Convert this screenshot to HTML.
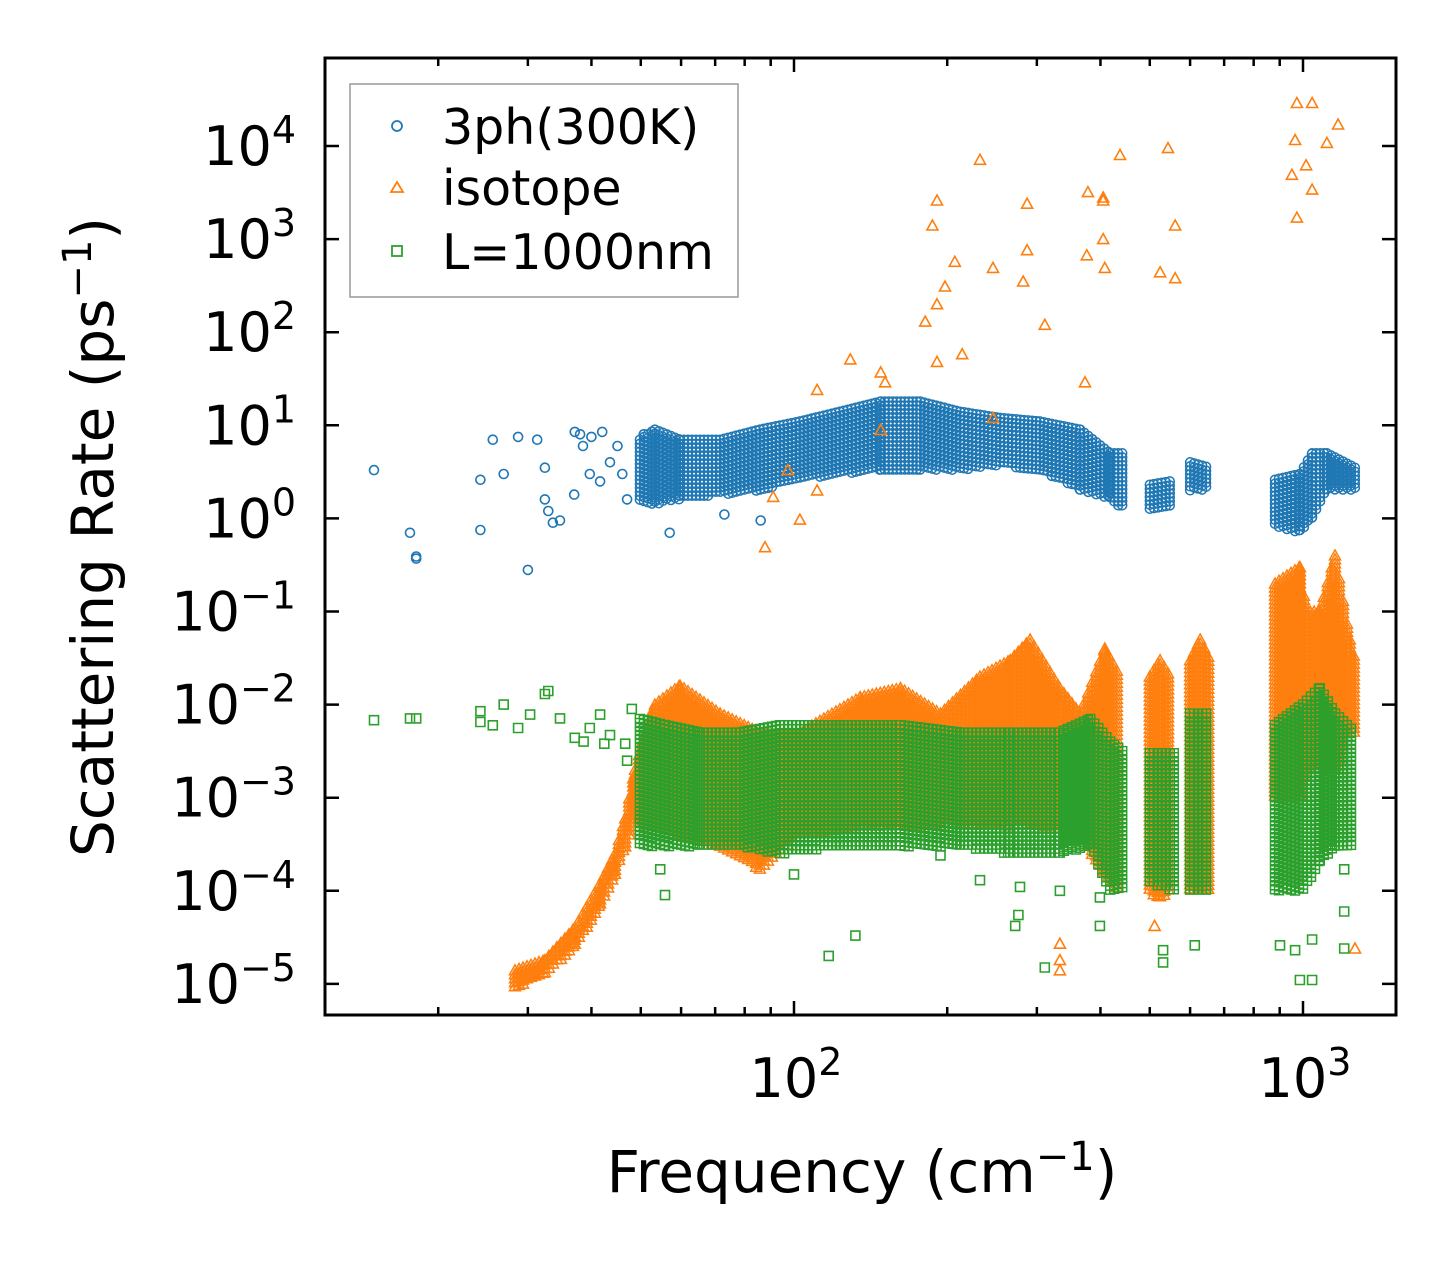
<!DOCTYPE html>
<html><head><meta charset="utf-8"><style>
html,body{margin:0;padding:0;background:#fff;}
svg text{font-family:"DejaVu Sans","Liberation Sans",sans-serif;fill:#000;}
</style></head><body>
<svg id="chart" width="1455" height="1265" viewBox="0 0 1455 1265" xmlns="http://www.w3.org/2000/svg">
<rect x="0" y="0" width="1455" height="1265" fill="#fff"/>
<g id="marks"></g>
<g id="axes"></g>
<g id="legend">
 <rect x="350" y="84" width="388" height="213" fill="#fff" fill-opacity="0.85" stroke="#999" stroke-width="1.5"/>
 <circle cx="397" cy="126" r="5" fill="none" stroke="#1f77b4" stroke-width="1.8"/>
 <text x="442" y="144" font-size="49">3ph(300K)</text>
 <path d="M397,182 L403,192 L391,192 Z" fill="none" stroke="#ff7f0e" stroke-width="1.8"/>
 <text x="442" y="205" font-size="49">isotope</text>
 <rect x="392" y="246" width="10" height="10" fill="none" stroke="#2ca02c" stroke-width="1.8"/>
 <text x="442" y="269" font-size="49">L=1000nm</text>
</g>
<text x="862" y="1192" font-size="58" text-anchor="middle">Frequency (cm<tspan font-size="40" dy="-22">−1</tspan><tspan dy="22">)</tspan></text>
<text transform="translate(113,537) rotate(-90)" font-size="58" text-anchor="middle">Scattering Rate (ps<tspan font-size="40" dy="-22">−1</tspan><tspan dy="22">)</tspan></text>
</svg>
<script>
// ---- data ----
const blueScatterFreq = [14.96,17.6,18.1,18.1,24.2,24.2,25.6,26.9,28.7,30,31.3,32.4,32.9,32.4,33.6,34.7,37,37.1,38.5,39.7,41.6,43.5,47,50.7,57,73,86,38,40,42,45,46];
const blueScatterRate = [3.3,0.7,0.37,0.39,2.6,0.75,7,3,7.5,0.28,7,3.5,1.2,1.6,0.9,0.95,1.8,8.5,6,3,2.5,4,1.6,8,0.7,1.1,0.95,8,7.5,8.5,6,3];
const blueBandFreq = [49.8,53.3,59.7,71.6,85.7,102.7,123,148,177,212,254,304,365,418,447,null,500,548,null,600,656,null,881,986,1042,1114,1265];
const blueBandLo   = [1.5,1.4,1.6,1.8,2,2.6,3,3.3,3.3,3.3,3.7,3.3,2,1.6,1.2,null,1.2,1.3,null,2,2,null,0.8,0.7,1,2,2];
const blueBandHi   = [7,9,7,7,9,11,14,18,18,14,12,11,9,5,5,null,2.3,2.5,null,4,3.5,null,2.6,3,5,5,3.5];

const isoScatterFreq = [973,1042,965,1172,1114,1014,951,1042,973,543,437,232,378,405,405,287,191,187,561,405,287,376,408,524,561,246,207,282,198,191,181,311,191,214,129,148,151,111,373,148,246,97.3,111,102.7,87.7,91,333,333,333,511,1265];
const isoScatterRate = [2.9e4,2.9e4,1.16e4,1.7e4,1.08e4,6.2e3,4.9e3,3.4e3,1.7e3,9.5e3,8e3,7.1e3,3.2e3,2.8e3,2.6e3,2.4e3,2.6e3,1.4e3,1.4e3,1e3,7.6e2,6.7e2,4.9e2,4.4e2,3.8e2,4.9e2,5.7e2,3.5e2,3.1e2,2e2,1.3e2,1.2e2,48,58,51,37,29,24,29,8.9,12,3.3,2.0,0.97,0.49,1.7,1.4e-5,1.8e-5,2.7e-5,4.2e-5,2.4e-5];
const isoBandFreq = [28.3,32.4,37.1,41.6,44.5,46.6,48.7,51,53.3,59.7,71.6,85.7,102.7,135,162,194,232,266,291,333,365,408,437,null,500,524,548,null,600,628,656,null,881,986,1014,1079,1156,1236,1265];
const isoBandLo = [9e-6,1.3e-5,2.5e-5,7e-5,1.5e-4,3e-4,6e-4,5e-4,5e-4,4e-4,3e-4,1.7e-4,4e-4,5e-4,5e-4,5e-4,5e-4,5e-4,5e-4,5e-4,4e-4,1.5e-4,1e-4,null,1e-4,8e-5,1e-4,null,1e-4,1e-4,1e-4,null,1e-3,1e-3,2e-3,2e-3,2e-3,5e-3,5e-3];
const isoBandHi = [1.4e-5,1.8e-5,4e-5,1.2e-4,2.5e-4,6e-4,2e-3,5e-3,1e-2,1.6e-2,8e-3,5e-3,5e-3,1.2e-2,1.5e-2,8e-3,2e-2,3e-2,5e-2,1.5e-2,8e-3,4e-2,2e-2,null,2e-2,3e-2,2e-2,null,3e-2,5e-2,3e-2,null,0.2,0.3,0.1,0.1,0.4,0.05,0.03];

const bdyScatterFreq = [14.96,17.6,18.1,24.2,24.2,25.6,26.9,28.7,30.3,32.4,32.9,34.7,37.1,39.7,41.6,43.5,46.6,47,42.4,48,38.6,54.6,55.8,100,132,117,272,276,311,278,399,613,531,531,901,965,986,1042,1042,1205,1205,1205,333,232,399,194];
const bdyScatterRate = [6.8e-3,7.1e-3,7.1e-3,6.5e-3,8.5e-3,6e-3,1e-2,5.6e-3,7.8e-3,1.3e-2,1.4e-2,7.1e-3,4.4e-3,5.6e-3,7.8e-3,4.7e-3,3.8e-3,2.5e-3,3.8e-3,9e-3,4e-3,1.7e-4,9e-5,1.5e-4,3.3e-5,2e-5,4.2e-5,5.5e-5,1.5e-5,1.1e-4,4.2e-5,2.6e-5,2.3e-5,1.7e-5,2.6e-5,2.3e-5,1.1e-5,1.1e-5,3e-5,2.4e-5,6e-5,1.7e-4,1e-4,1.3e-4,8.5e-5,2.4e-4];
const bdyBandFreq = [49.8,55.8,65.3,78.3,93.9,123,162,212,266,333,382,418,447,null,500,560,null,600,656,null,881,1000,1079,1156,1265];
const bdyBandLo = [3e-4,3e-4,3e-4,3e-4,2.5e-4,3e-4,3e-4,3e-4,2.5e-4,2.5e-4,3e-4,1e-4,1e-4,null,1.2e-4,1e-4,null,1e-4,1e-4,null,1e-4,1e-4,2e-4,3e-4,3e-4];
const bdyBandHi = [7e-3,6e-3,5e-3,5e-3,6e-3,6e-3,6e-3,5e-3,5e-3,5e-3,7e-3,4e-3,3e-3,null,3e-3,3e-3,null,8e-3,8e-3,null,6e-3,1e-2,1.5e-2,8e-3,5e-3];

const xTickExps = [2,3];
const yTickExps = [4,3,2,1,0,-1,-2,-3,-4,-5];

// ---- axes ----
const L=325,R=1396,T=58,B=1015;
const X = f => 794 + 509*(Math.log10(f)-2);
const Y = v => 146 + 93.1*(4-Math.log10(v));
const NS="http://www.w3.org/2000/svg";
const marks=document.getElementById('marks');
const axes=document.getElementById('axes');
function mk(tag,attrs,parent){const e=document.createElementNS(NS,tag);for(const k in attrs)e.setAttribute(k,attrs[k]);parent.appendChild(e);return e;}
const r1 = v => Math.round(v*10)/10;
function markerPath(kind,x,y){
  x=+x; y=+y;
  if(kind==='c') return `M${r1(x-4.5)} ${r1(y)}a4.5 4.5 0 1 0 9 0a4.5 4.5 0 1 0 -9 0`;
  if(kind==='t') return `M${r1(x)} ${r1(y-5.5)}L${r1(x+5.5)} ${r1(y+4.5)}L${r1(x-5.5)} ${r1(y+4.5)}Z`;
  return `M${r1(x-4.5)} ${r1(y-4.5)}h9v9h-9Z`;
}
function drawSeries(name,color,kind,bf,blo,bhi,sf,sr){
  let d='';
  for(let i=0;i<bf.length-1;i++){
    if(bf[i]===null||bf[i+1]===null) continue;
    const x0=X(bf[i]),x1=X(bf[i+1]);
    for(let x=x0;x<=x1;x+=4){
      const t=(x1>x0)?(x-x0)/(x1-x0):0;
      const yTop=Y(bhi[i])*(1-t)+Y(bhi[i+1])*t;
      const yBot=Y(blo[i])*(1-t)+Y(blo[i+1])*t;
      for(let y=yTop;y<=yBot;y+=4){ d+=markerPath(kind,x,y); }
    }
  }
  const band=mk('path',{d:d,fill:'none',stroke:color,'stroke-width':1.5},marks);
  
  
  let d2='';
  for(let i=0;i<sf.length;i++){ d2+=markerPath(kind,X(sf[i]),Y(sr[i])); }
  const sc=mk('path',{d:d2,fill:'none',stroke:color,'stroke-width':1.6},marks);
  
  
}
drawSeries('3ph-300k','#1f77b4','c',blueBandFreq,blueBandLo,blueBandHi,blueScatterFreq,blueScatterRate);
drawSeries('isotope','#ff7f0e','t',isoBandFreq,isoBandLo,isoBandHi,isoScatterFreq,isoScatterRate);
drawSeries('boundary-1000nm','#2ca02c','s',bdyBandFreq,bdyBandLo,bdyBandHi,bdyScatterFreq,bdyScatterRate);

const fr=mk('rect',{x:L,y:T,width:R-L,height:B-T,fill:'none',stroke:'#000','stroke-width':3},axes);


let td='';
yTickExps.forEach(e=>{const y=Y(Math.pow(10,e));td+=`M${L} ${y}h14M${R} ${y}h-14`;});
for(let dec=1;dec<=3;dec++){for(let m=1;m<=9;m++){const f=m*Math.pow(10,dec);const x=X(f);if(x<L+1||x>R-1)continue;const len=(m===1)?14:8;td+=`M${x} ${B}v-${len}M${x} ${T}v${len}`;}}
const tk=mk('path',{d:td,stroke:'#000','stroke-width':2.5,fill:'none'},axes);


yTickExps.forEach(e=>{
  const t=mk('text',{x:296,y:Y(Math.pow(10,e))+19,'font-size':54,'text-anchor':'end'},axes);
  
  
  const es=(e<0?'−'+(-e):String(e));
  t.innerHTML=`10<tspan font-size="38" dy="-22">${es}</tspan>`;
});
xTickExps.forEach(e=>{
  const t=mk('text',{x:X(Math.pow(10,e))+2,y:1097,'font-size':54,'text-anchor':'middle'},axes);
  
  
  t.innerHTML=`10<tspan font-size="38" dy="-22">${e}</tspan>`;
});
</script>
</body></html>
